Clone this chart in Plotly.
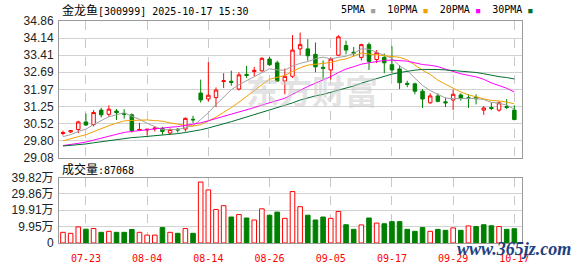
import plotly.graph_objects as go
import pandas as pd

# ---------------- data ----------------
dates = ["07-18", "07-21", "07-22", "07-23", "07-24", "07-25", "07-28", "07-29", "07-30", "07-31",
         "08-01", "08-04", "08-05", "08-06", "08-07", "08-08", "08-11", "08-12", "08-13", "08-14",
         "08-15", "08-18", "08-19", "08-20", "08-21", "08-22", "08-25", "08-26", "08-27", "08-28",
         "08-29", "09-01", "09-02", "09-03", "09-04", "09-05", "09-08", "09-09", "09-10", "09-11",
         "09-12", "09-15", "09-16", "09-17", "09-18", "09-19", "09-22", "09-23", "09-24", "09-25",
         "09-26", "09-29", "09-30", "10-09", "10-10", "10-13", "10-14", "10-15", "10-16", "10-17"]

open_ = [30.10, 30.17, 30.27, 30.59, 30.48, 31.09, 30.91, 31.05, 30.95, 30.89,
         30.23, 30.25, 30.30, 30.31, 30.12, 30.28, 30.29, 30.70, 31.81, 31.56,
         31.62, 32.30, 32.31, 31.98, 32.60, 32.72, 32.75, 33.25, 33.09, 32.32,
         32.52, 33.68, 33.68, 33.45, 32.90, 32.79, 33.41, 33.82, 33.54, 33.32,
         33.86, 33.23, 33.32, 33.01, 32.83, 32.22, 32.20, 31.89, 31.40, 31.69,
         31.44, 31.52, 31.73, 31.61, 31.63, 31.09, 31.20, 31.09, 31.24, 31.09]
high = [30.22, 30.25, 30.64, 30.95, 31.09, 31.19, 31.29, 31.13, 31.13, 30.95,
        30.55, 30.29, 30.37, 30.38, 30.32, 30.33, 30.78, 30.85, 32.38, 33.12,
        32.05, 32.65, 32.76, 32.69, 32.96, 32.92, 33.33, 33.35, 33.18, 32.85,
        34.26, 34.37, 34.09, 33.95, 33.19, 33.32, 34.26, 34.03, 33.76, 33.90,
        33.95, 33.63, 33.48, 33.79, 32.99, 32.33, 32.25, 31.98, 31.80, 31.80,
        31.62, 31.96, 31.80, 31.76, 31.76, 31.26, 31.42, 31.46, 31.56, 31.29]
low = [30.02, 30.12, 30.11, 30.42, 30.40, 30.78, 30.81, 30.67, 30.73, 30.14,
       30.22, 30.02, 30.19, 30.05, 30.06, 30.14, 30.18, 30.55, 31.41, 31.45,
       31.22, 32.02, 32.12, 31.92, 32.45, 32.52, 32.72, 32.96, 32.29, 31.76,
       32.45, 33.41, 33.18, 32.69, 32.38, 32.38, 33.37, 33.45, 33.36, 33.19,
       32.79, 33.08, 32.65, 32.65, 31.98, 32.06, 31.76, 31.18, 31.36, 31.42,
       31.22, 31.09, 31.49, 31.18, 31.33, 30.89, 31.09, 31.02, 31.13, 30.66]
close = [30.14, 30.22, 30.59, 30.46, 30.99, 30.89, 31.13, 30.98, 30.92, 30.22,
         30.27, 30.28, 30.33, 30.19, 30.27, 30.25, 30.74, 30.68, 31.52, 31.72,
         31.94, 32.33, 32.26, 32.58, 32.56, 32.77, 33.28, 33.01, 32.32, 32.52,
         33.63, 33.86, 33.39, 32.92, 32.86, 33.25, 34.19, 33.63, 33.50, 33.86,
         33.15, 33.52, 33.09, 32.79, 32.25, 32.18, 31.89, 31.56, 31.69, 31.46,
         31.40, 31.76, 31.58, 31.59, 31.57, 31.18, 31.16, 31.40, 31.20, 30.69]
volume = [65000, 59000, 98000, 84000, 88000, 65000, 71000, 65000, 65000, 82000,
          65000, 48000, 48000, 94000, 65000, 59000, 88000, 59000, 371000, 323000,
          204000, 227000, 158000, 173000, 152000, 140000, 208000, 169000, 188000, 150000,
          313000, 221000, 169000, 140000, 158000, 150000, 192000, 111000, 83000, 110000,
          152000, 121000, 117000, 130000, 130000, 83000, 71000, 94000, 71000, 83000,
          77000, 92000, 77000, 104000, 100000, 111000, 105000, 100000, 83000, 87068]
# closes of the 29 sessions before the first shown day (for the moving averages)
pre_close = [29.60, 29.55, 29.48, 29.52, 29.45, 29.50, 29.58, 29.55, 29.50, 29.57,
             29.50, 29.42, 29.35, 29.30, 29.38, 29.33, 29.40, 29.36, 29.42, 29.44,
             29.50, 29.55, 29.62, 29.66, 29.72, 29.82, 29.90, 29.98, 30.01]

price_tick_text = ["29.08", "29.80", "30.52", "31.25", "31.97", "32.69", "33.41", "34.14", "34.86"]
vol_tick_vals = [0, 99550, 199100, 298650, 398200]
vol_tick_text = ["0", "9.95万", "19.91万", "29.86万", "39.82万"]
date_ticks = ["07-23", "08-04", "08-14", "08-26", "09-05", "09-17", "09-29", "10-17"]
ma_periods = [5, 10, 20, 30]
ma_names = ["5PMA", "10PMA", "20PMA", "30PMA"]

# ---------------- derived ----------------
full_close = pd.Series(pre_close + close)
n_pre = len(pre_close)
ma_values = {p: full_close.rolling(p).mean().iloc[n_pre:].round(3).tolist() for p in ma_periods}
prev_close = [pre_close[-1]] + close[:-1]
vol_up = [c >= pc for c, pc in zip(close, prev_close)]

RED = "#ff0000"
GREEN = "#008000"
ma_colors = ["#a0a0a0", "#f0a000", "#ff00ff", "#006e30"]

fig = go.Figure()
fig.add_trace(go.Candlestick(
    x=dates, open=open_, high=high, low=low, close=close,
    increasing=dict(line=dict(color=RED, width=1), fillcolor="#ffffff"),
    decreasing=dict(line=dict(color=GREEN, width=1), fillcolor=GREEN),
    whiskerwidth=0, showlegend=False, xaxis="x", yaxis="y", hoverinfo="skip"))
for p, col in zip(ma_periods, ma_colors):
    fig.add_trace(go.Scatter(x=dates, y=ma_values[p], mode="lines",
                             line=dict(color=col, width=1), showlegend=False,
                             xaxis="x", yaxis="y", hoverinfo="skip"))
fig.add_trace(go.Bar(
    x=dates, y=volume, width=0.6,
    marker=dict(color=["#ffffff" if u else GREEN for u in vol_up],
                line=dict(color=[RED if u else GREEN for u in vol_up], width=1)),
    showlegend=False, xaxis="x2", yaxis="y2", hoverinfo="skip"))

W, H = 578, 276
ML, MR, MT, MB = 56, 56, 21, 21
PW, PH = W - ML - MR, H - MT - MB


def px_x(x):
    return (x - ML) / PW


def px_y(y):
    return (H - MB - y) / PH


axis_common = dict(showline=True, mirror=True, linecolor="#9a9a9a", linewidth=1,
                   zeroline=False, ticks="", fixedrange=True)
xcommon = dict(axis_common, type="category", range=[-0.52, 60.0], tickvals=date_ticks,
               showgrid=True, gridcolor="#c8c8c8", griddash="dash", gridwidth=1,
               rangeslider=dict(visible=False))

fig.update_layout(
    width=W, height=H, margin=dict(l=ML, r=MR, t=MT, b=MB, pad=0),
    paper_bgcolor="#ffffff", plot_bgcolor="#ffffff", boxgap=0.35,
    xaxis=dict(xcommon, domain=[0, 1], anchor="y", showticklabels=False),
    xaxis2=dict(xcommon, domain=[0, 1], anchor="y2", matches="x", showticklabels=True,
                tickfont=dict(family="DejaVu Sans Mono", size=10, color=RED),
                ticklabelstandoff=6),
    yaxis=dict(axis_common, domain=[px_y(165), 1], range=[29.08, 34.86],
               tickvals=[float(t) for t in price_tick_text], ticktext=price_tick_text,
               showgrid=True, gridcolor="#d2d2d2", gridwidth=1,
               tickfont=dict(family="Liberation Sans", size=12, color="#222222"),
               ticklabelstandoff=2),
    yaxis2=dict(axis_common, domain=[0, px_y(186)], range=[0, 398200],
                tickvals=vol_tick_vals, ticktext=vol_tick_text,
                showgrid=True, gridcolor="#d2d2d2", gridwidth=1,
                tickfont=dict(family="Liberation Sans, Noto Sans CJK SC", size=12, color="#222222"),
                ticklabelstandoff=2),
    font=dict(family="DejaVu Sans Mono", size=10, color="#000000"),
)

CJK = "font-family:'Noto Sans CJK SC';font-size:12px"
legend_parts = []
for name, col in zip(ma_names, ma_colors):
    legend_parts.append(f"{name}\u00a0<span style='color:{col};font-size:7px'>■</span>")
legend_text = "\u00a0\u00a0".join(legend_parts)

annotations = [
    dict(text=f"<span style=\"{CJK}\">金龙鱼</span>[300999] 2025-10-17 15:30",
         x=px_x(57), y=px_y(9), xanchor="left", yanchor="middle"),
    dict(text=legend_text, x=px_x(338), y=px_y(9), xanchor="left", yanchor="middle"),
    dict(text=f"<span style=\"{CJK}\">成交量</span>:{volume[-1]}",
         x=px_x(57), y=px_y(176), xanchor="left", yanchor="middle"),
    dict(text="<b>东方财富</b>", x=px_x(311), y=px_y(94), xanchor="center", yanchor="middle",
         font=dict(family="Noto Sans CJK SC", size=33, color="rgba(200,200,200,0.5)")),
    dict(text="<b><i>www.365jz.com</i></b>", x=px_x(514), y=px_y(261), xanchor="center", yanchor="middle",
         font=dict(family="Liberation Serif", size=18, color="#1f3f7f")),
]
for a in annotations:
    a.update(xref="paper", yref="paper", showarrow=False)
    a.setdefault("font", dict(family="DejaVu Sans Mono", size=10, color="#000000"))
fig.update_layout(annotations=annotations)

fig.write_html("out.html", config=dict(displayModeBar=False, staticPlot=True))
